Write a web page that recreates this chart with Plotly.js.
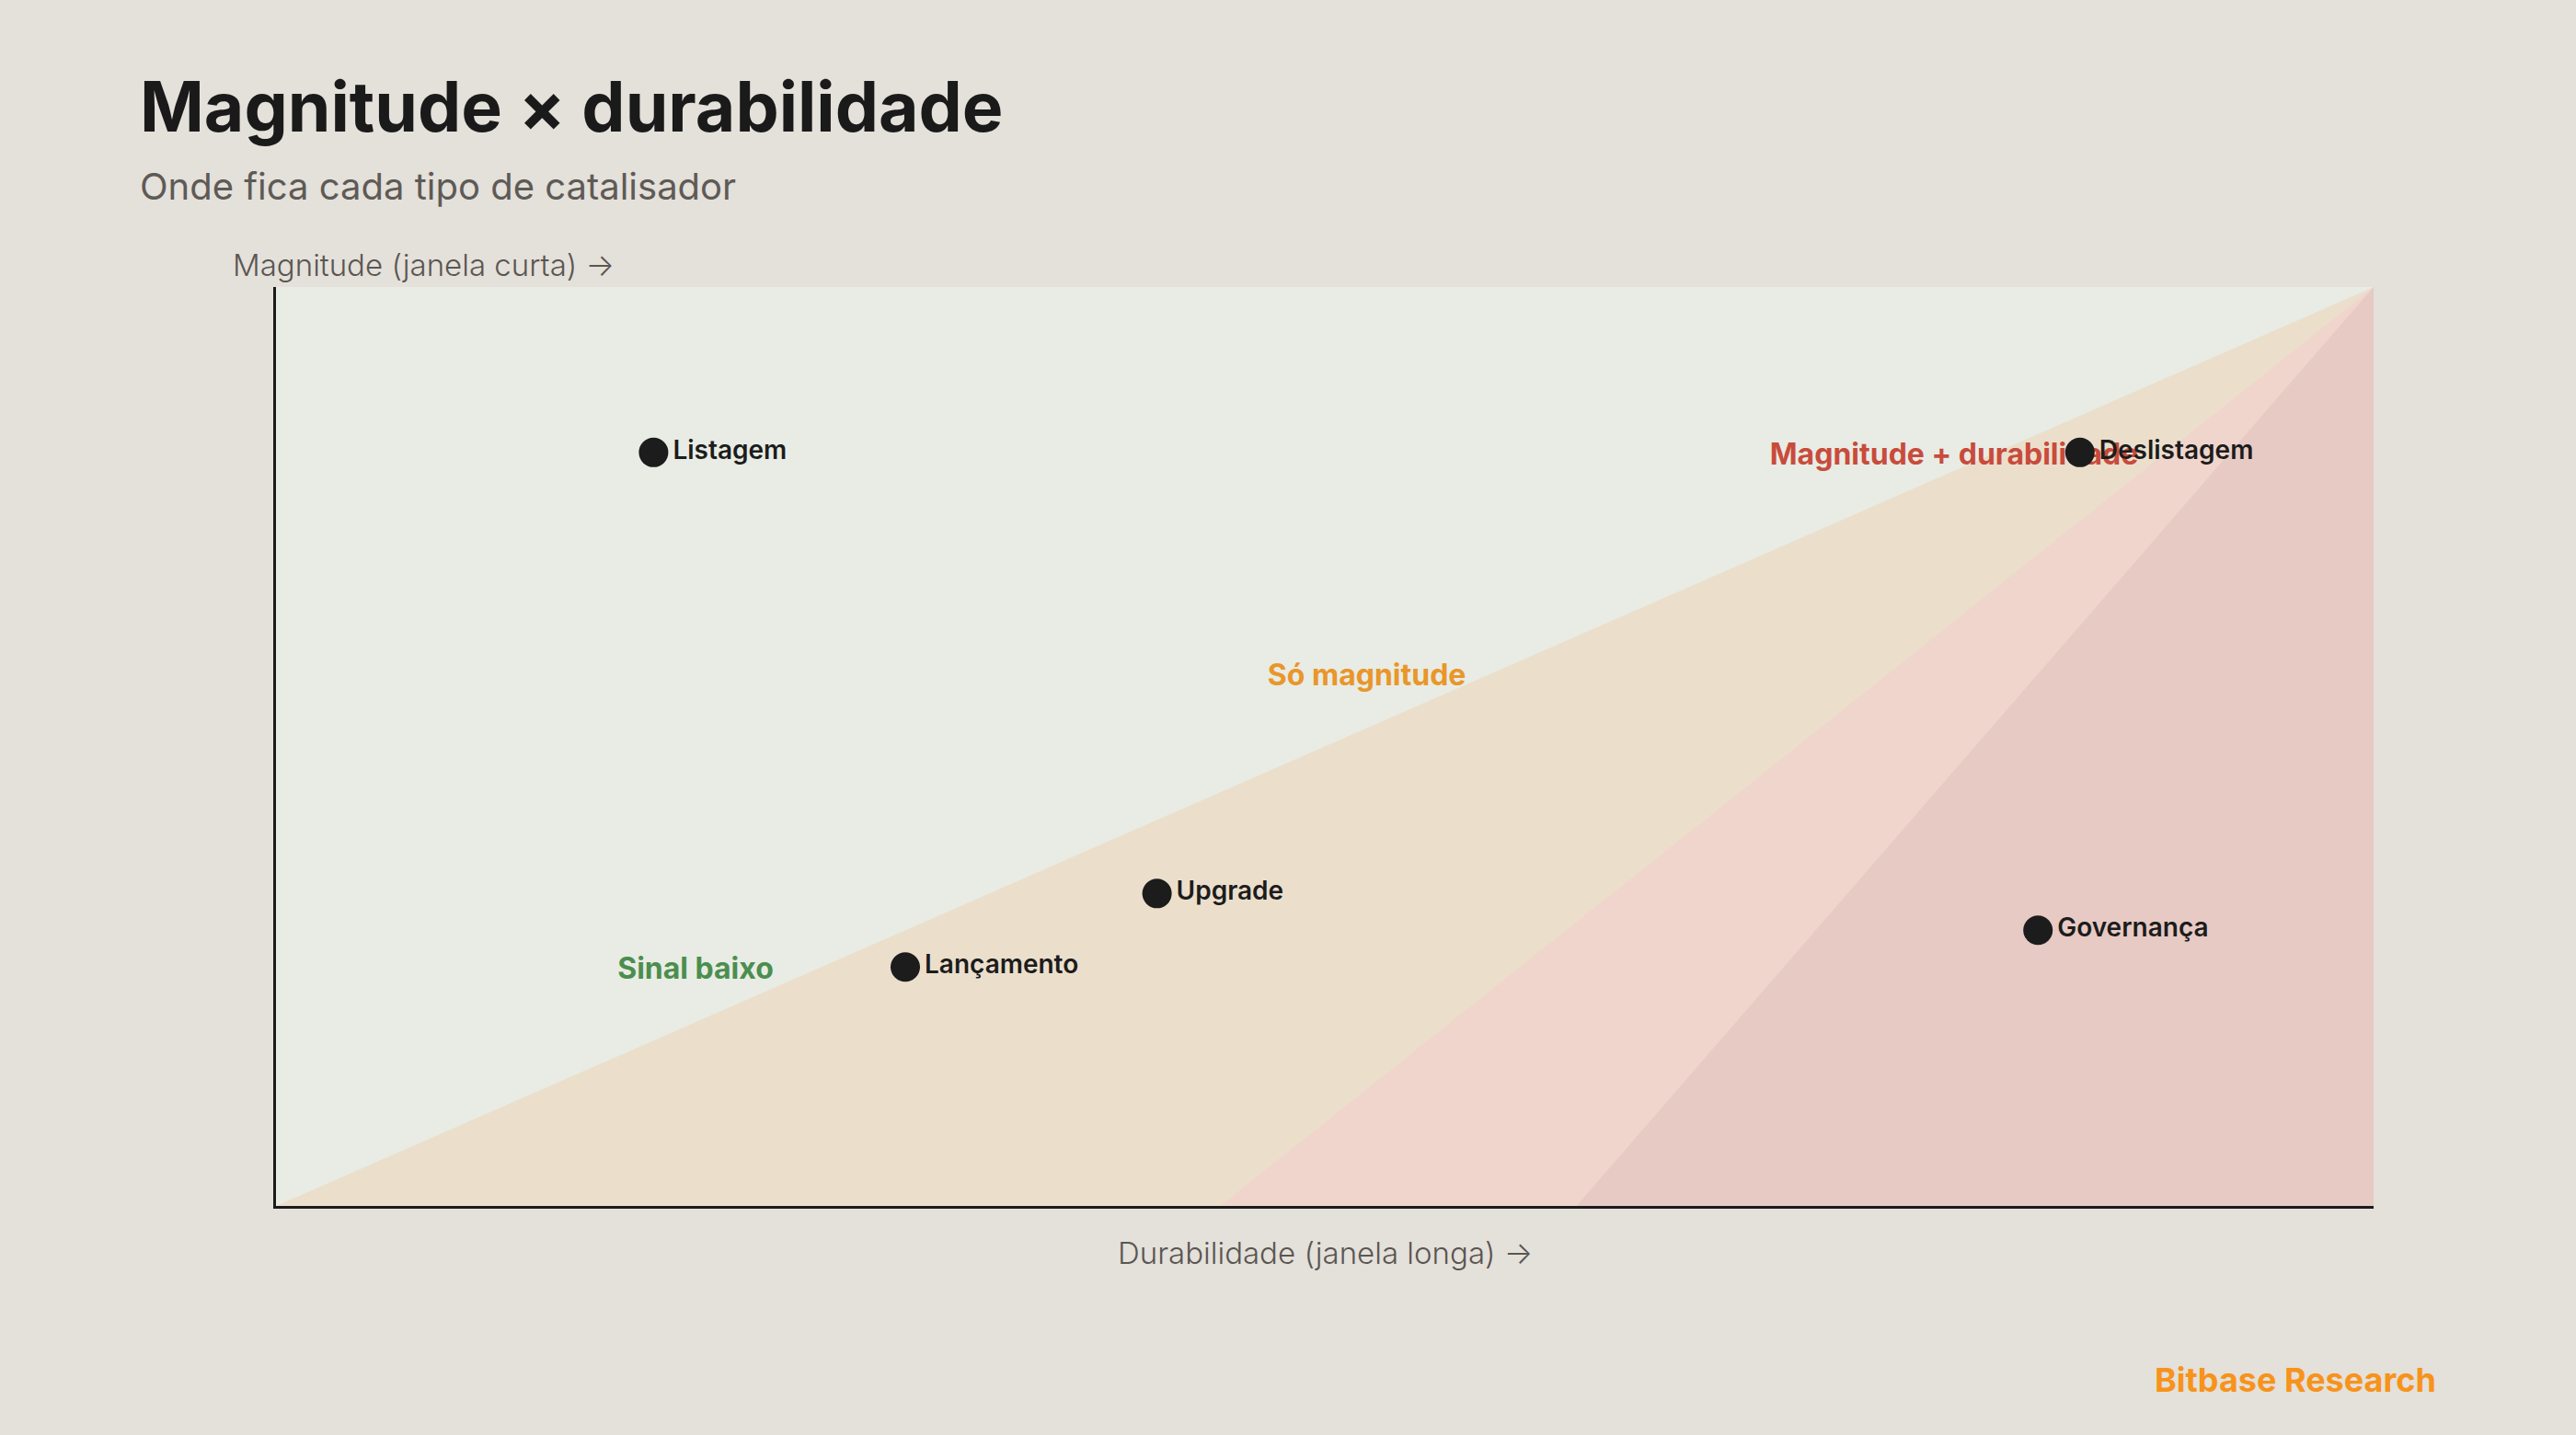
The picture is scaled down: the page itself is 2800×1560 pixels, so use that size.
<!DOCTYPE html>
<html>
<head>
<meta charset="utf-8">
<script src="https://cdn.plot.ly/plotly-3.0.1.min.js"></script>
<style>
  html, body { margin: 0; padding: 0; background: #e4e0da; }
  #chart { width: 2800px; height: 1560px; }
</style>
</head>
<body>
<div id="chart"></div>
<script>
// ---- Data ----
const catalysts    = ['Listagem', 'Deslistagem', 'Upgrade', 'Lançamento', 'Governança'];
const durabilidade = [0.18, 0.86, 0.42, 0.30, 0.84];   // x: durabilidade (janela longa)
const magnitude    = [0.82, 0.82, 0.34, 0.26, 0.30];   // y: magnitude (janela curta)

const zoneNames = ['Sinal baixo', 'Só magnitude', 'Magnitude + durabilidade'];
const zoneX     = [0.20, 0.52, 0.80];
const zoneY     = [0.255, 0.575, 0.815];

// background bands (triangles anchored at the top-right corner)
const bandTanX  = [0.00, 1, 1];
const bandTanY  = [0, 1, 0];
const bandPinkX = [0.45, 1, 1];
const bandPinkY = [0, 1, 0];
const bandRoseX = [0.62, 1, 1];
const bandRoseY = [0, 1, 0];

// ---- Styles ----
const FONT = 'Inter, "Open Sans", sans-serif';
const zoneColors = ['#4b8e4f', '#e9962b', '#c84b3c'];

function band(x, y, color) {
  return {
    type: 'scatter', mode: 'lines', x: x, y: y,
    fill: 'toself', fillcolor: color,
    line: { width: 0, color: color },
    hoverinfo: 'skip', showlegend: false
  };
}

const traces = [
  band(bandTanX, bandTanY, '#ebdfcc'),
  band(bandPinkX, bandPinkY, '#f0d5cc'),
  band(bandRoseX, bandRoseY, '#e7cac4'),
  {
    type: 'scatter', mode: 'text',
    x: zoneX, y: zoneY, text: zoneNames,
    textposition: 'middle center',
    textfont: { family: FONT, size: 32, weight: 700, color: zoneColors },
    hoverinfo: 'skip', showlegend: false, cliponaxis: false
  },
  {
    type: 'scatter', mode: 'markers+text',
    x: durabilidade, y: magnitude, text: catalysts,
    textposition: 'middle right',
    marker: { size: 32, color: '#1c1c1c', line: { width: 0 } },
    textfont: { family: FONT, size: 28, weight: 600, color: '#1c1c1c' },
    showlegend: false, cliponaxis: false
  }
];

const layout = {
  width: 2800, height: 1560,
  paper_bgcolor: '#e4e0da',
  plot_bgcolor: '#e8ece4',
  margin: { l: 300, r: 220, t: 312, b: 249, pad: 0 },
  showlegend: false,
  xaxis: {
    range: [0, 1], showgrid: false, zeroline: false,
    showticklabels: false, ticks: '',
    showline: true, linewidth: 3, linecolor: '#1c1c1c', mirror: false
  },
  yaxis: {
    range: [0, 1], showgrid: false, zeroline: false,
    showticklabels: false, ticks: '',
    showline: true, linewidth: 3, linecolor: '#1c1c1c', mirror: false
  },
  annotations: [
    {
      text: 'Magnitude × durabilidade', xref: 'paper', yref: 'paper',
      x: -0.066, y: 1.197, xanchor: 'left', yanchor: 'middle', showarrow: false,
      font: { family: FONT, size: 75, weight: 700, color: '#1a1a1a' }
    },
    {
      text: 'Onde fica cada tipo de catalisador', xref: 'paper', yref: 'paper',
      x: -0.066, y: 1.110, xanchor: 'left', yanchor: 'middle', showarrow: false,
      font: { family: FONT, size: 40, weight: 400, color: '#5e5a56' }
    },
    {
      text: 'Magnitude (janela curta) →', xref: 'paper', yref: 'paper',
      x: -0.0215, y: 1.024, xanchor: 'left', yanchor: 'middle', showarrow: false,
      font: { family: FONT, size: 33, weight: 300, color: '#5a5652' }
    },
    {
      text: 'Durabilidade (janela longa) →', xref: 'paper', yref: 'paper',
      x: 0.5, y: -0.051, xanchor: 'center', yanchor: 'middle', showarrow: false,
      font: { family: FONT, size: 33, weight: 300, color: '#5a5652' }
    },
    {
      text: 'Bitbase Research', xref: 'paper', yref: 'paper',
      x: 1.0305, y: -0.189, xanchor: 'right', yanchor: 'middle', showarrow: false,
      font: { family: FONT, size: 36, weight: 700, color: '#f7931a' }
    }
  ]
};

Plotly.newPlot('chart', traces, layout, { displayModeBar: false, staticPlot: true });
</script>
</body>
</html>
